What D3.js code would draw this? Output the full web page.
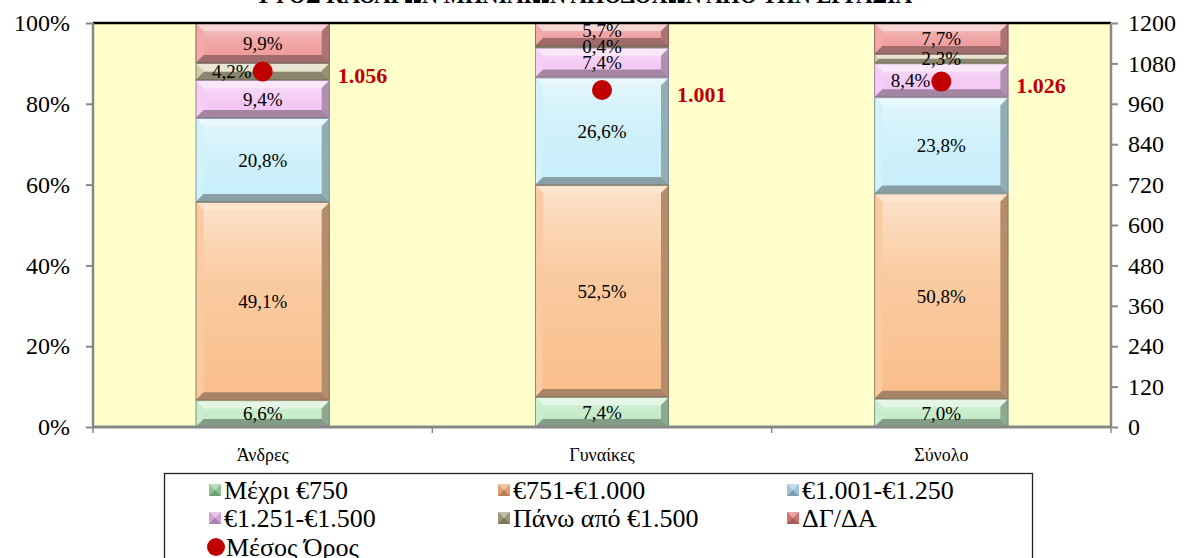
<!DOCTYPE html>
<html><head><meta charset="utf-8">
<script src="https://cdn.jsdelivr.net/npm/d3@7"></script>
<style>body{margin:0;background:#fff}svg{display:block}</style>
</head><body>
<svg id="c" width="1189" height="558"></svg>
<script>
const titleText = "ΥΨΟΣ ΚΑΘΑΡΩΝ ΜΗΝΙΑΙΩΝ ΑΠΟΔΟΧΩΝ ΑΠΟ ΤΗΝ ΕΡΓΑΣΙΑ";
const categories = ["Άνδρες", "Γυναίκες", "Σύνολο"];
const seriesNames = ["Μέχρι €750", "€751-€1.000", "€1.001-€1.250", "€1.251-€1.500", "Πάνω από €1.500", "ΔΓ/ΔΑ"];
const upTo750   = [6.6, 7.4, 7.0];
const from751   = [49.1, 52.5, 50.8];
const from1001  = [20.8, 26.6, 23.8];
const from1251  = [9.4, 7.4, 8.4];
const over1500  = [4.2, 0.4, 2.3];
const noAnswer  = [9.9, 5.7, 7.7];
const meanName = "Μέσος Όρος";
const meanValues = [1056, 1001, 1026];
const meanLabels = ["1.056", "1.001", "1.026"];
const leftTicks = [0, 20, 40, 60, 80, 100];
const rightTicks = [0, 120, 240, 360, 480, 600, 720, 840, 960, 1080, 1200];

const seriesValues = [upTo750, from751, from1001, from1251, over1500, noAnswer];
const palette = ["#BDE8C0", "#F9BE8A", "#C6EEFA", "#F3C2F3", "#C9C196", "#EE9494"];
const legendIcon = ["#8CC792", "#E0A070", "#9CC6D8", "#D0A0D8", "#9A9470", "#D07070"];
const serif = "'Liberation Serif','Times New Roman',serif";

const svg = d3.select("#c");
const defs = svg.append("defs");
const L = 93, R = 1111, T = 23, B = 427;

const x = d3.scaleBand().domain(categories).range([L, R]).paddingInner(0.605).paddingOuter(0.3025);
const yL = d3.scaleLinear().domain([0, 100]).range([B, T]);
const yR = d3.scaleLinear().domain([0, 1200]).range([B, T]);

// title (mostly cut off at the top)
svg.append("text").attr("x", 255).attr("y", 3)
  .attr("textLength", 657).attr("lengthAdjust", "spacingAndGlyphs")
  .style("font-family", serif).style("font-weight", "bold").style("font-size", "28px")
  .text(titleText);

// plot background
svg.append("rect").attr("x", L).attr("y", T).attr("width", R - L).attr("height", B - T).attr("fill", "#FFFFCC");

// gradients
palette.forEach((c, i) => {
  const g = defs.append("linearGradient").attr("id", "g" + i).attr("x1", 0).attr("y1", 0).attr("x2", 0).attr("y2", 1);
  g.append("stop").attr("offset", "0%").attr("stop-color", d3.interpolateRgb(c, "#fff")(0.55));
  g.append("stop").attr("offset", "40%").attr("stop-color", d3.interpolateRgb(c, "#fff")(0.2));
  g.append("stop").attr("offset", "100%").attr("stop-color", c);
});

function bevel(g, x0, y0, x1, y1, i, bmax) {
  const c = palette[i];
  const h = y1 - y0, b = Math.max(0, Math.min(bmax, h / 2));
  g.append("rect").attr("x", x0).attr("y", y0).attr("width", x1 - x0).attr("height", h).attr("fill", `url(#g${i})`);
  const poly = (pts, fill) => g.append("polygon").attr("points", pts.map(p => p.join(",")).join(" ")).attr("fill", fill);
  poly([[x0, y0], [x1, y0], [x1 - b, y0 + b], [x0 + b, y0 + b]], d3.interpolateRgb(c, "#fff")(0.6));
  poly([[x0, y0], [x0 + b, y0 + b], [x0 + b, y1 - b], [x0, y1]], d3.interpolateRgb(c, "#fff")(0.2));
  poly([[x1, y0], [x1, y1], [x1 - b, y1 - b], [x1 - b, y0 + b]], d3.interpolateRgb(c, "#333")(0.35));
  poly([[x0, y1], [x1, y1], [x1 - b, y1 - b], [x0 + b, y1 - b]], d3.interpolateRgb(c, "#333")(0.42));
  g.append("rect").attr("x", x0 + 0.4).attr("y", y0 + 0.4).attr("width", Math.max(0, x1 - x0 - 0.8)).attr("height", Math.max(0, h - 0.8))
    .attr("fill", "none").attr("stroke", d3.interpolateRgb(c, "#222")(0.5)).attr("stroke-width", 0.8);
}

// stacked data
const table = categories.map((cat, ci) => {
  const row = { cat };
  seriesNames.forEach((s, si) => row[s] = seriesValues[si][ci]);
  return row;
});
const stacked = d3.stack().keys(seriesNames)(table);

const barsG = svg.append("g");
stacked.forEach((layer, si) => {
  layer.forEach((d, ci) => {
    const x0 = x(d.data.cat), x1 = x0 + x.bandwidth();
    bevel(barsG, x0, yL(d[1]), x1, yL(d[0]), si, 8);
  });
});

// segment labels (bottom-up, nudged up to avoid collisions)
const lblG = svg.append("g").style("font-family", serif).style("font-size", "19px").attr("fill", "#000");
categories.forEach((cat, ci) => {
  const cx = x(cat) + x.bandwidth() / 2;
  const my = yR(meanValues[ci]);
  let prevY = Infinity;
  stacked.forEach((layer, si) => {
    const d = layer[ci];
    let cy = (yL(d[0]) + yL(d[1])) / 2;
    if (prevY - cy < 16) cy = prevY - 16;
    prevY = cy;
    const t = lblG.append("text").attr("y", cy).attr("dy", "0.35em")
      .text(d3.format(".1f")(seriesValues[si][ci]).replace(".", ",") + "%");
    if (Math.abs(cy - my) < 12) t.attr("x", cx - 11).attr("text-anchor", "end");
    else t.attr("x", cx).attr("text-anchor", "middle");
  });
});

// axes lines
svg.append("line").attr("x1", L).attr("x2", R).attr("y1", T).attr("y2", T).attr("stroke", "#000").attr("stroke-width", 2.5);
svg.append("line").attr("x1", L).attr("x2", L).attr("y1", T).attr("y2", B + 1).attr("stroke", "#888").attr("stroke-width", 2.5);
svg.append("line").attr("x1", R).attr("x2", R).attr("y1", T).attr("y2", B + 1).attr("stroke", "#888").attr("stroke-width", 2.5);
svg.append("line").attr("x1", L).attr("x2", R).attr("y1", B).attr("y2", B).attr("stroke", "#888").attr("stroke-width", 3);

const leftAxis = svg.append("g").attr("transform", `translate(${L},0)`)
  .call(d3.axisLeft(yL).tickValues(leftTicks).tickFormat(d => d + "%").tickSize(7).tickPadding(16));
const rightAxis = svg.append("g").attr("transform", `translate(${R},0)`)
  .call(d3.axisRight(yR).tickValues(rightTicks).tickFormat(d3.format("d")).tickSize(7).tickPadding(10));
[leftAxis, rightAxis].forEach(a => {
  a.select(".domain").remove();
  a.selectAll(".tick line").attr("stroke", "#888").attr("stroke-width", 2);
  a.selectAll(".tick text").style("font-family", serif).style("font-size", "24px").attr("fill", "#000");
});

// category axis
const catTicks = d3.range(categories.length + 1).map(i => L + i * x.step());
svg.append("g").selectAll("line").data(catTicks).join("line")
  .attr("x1", d => d).attr("x2", d => d).attr("y1", B).attr("y2", B + 6).attr("stroke", "#888").attr("stroke-width", 1.5);
svg.append("g").selectAll("text").data(categories).join("text")
  .attr("x", d => x(d) + x.bandwidth() / 2).attr("y", 461).attr("text-anchor", "middle")
  .style("font-family", serif).style("font-size", "18px").text(d => d);

// mean dots and labels
const meanG = svg.append("g");
categories.forEach((cat, ci) => {
  const cx = x(cat) + x.bandwidth() / 2, cy = yR(meanValues[ci]);
  meanG.append("circle").attr("cx", cx).attr("cy", cy).attr("r", 10).attr("fill", "#C00000");
  meanG.append("text").attr("x", cx + 75).attr("y", cy + 4).attr("dy", "0.35em")
    .style("font-family", serif).style("font-weight", "bold").style("font-size", "22px")
    .attr("fill", "#C00000").text(meanLabels[ci]);
});

// legend
const lg = svg.append("g");
lg.append("rect").attr("x", 164.5).attr("y", 473.5).attr("width", 868).attr("height", 110)
  .attr("fill", "#fff").attr("stroke", "#222").attr("stroke-width", 1.3);
const colX = [209, 498, 787], rowY = [490, 518, 547];
seriesNames.forEach((s, i) => {
  const cx = colX[i % 3], cy = rowY[Math.floor(i / 3)];
  const ig = lg.append("g");
  const c = legendIcon[i];
  ig.append("rect").attr("x", cx).attr("y", cy - 6).attr("width", 12).attr("height", 12).attr("fill", c);
  ig.append("polygon").attr("points", `${cx},${cy-6} ${cx+12},${cy-6} ${cx+6},${cy}`).attr("fill", d3.interpolateRgb(c, "#fff")(0.4));
  ig.append("polygon").attr("points", `${cx},${cy+6} ${cx+12},${cy+6} ${cx+6},${cy}`).attr("fill", d3.interpolateRgb(c, "#000")(0.2));
  lg.append("text").attr("x", cx + 15).attr("y", cy).attr("dy", "0.35em")
    .style("font-family", serif).style("font-size", "26px").text(s);
});
lg.append("circle").attr("cx", colX[0] + 7).attr("cy", rowY[2]).attr("r", 9).attr("fill", "#C00000");
lg.append("text").attr("x", colX[0] + 17).attr("y", rowY[2]).attr("dy", "0.35em")
  .style("font-family", serif).style("font-size", "26px").text(meanName);
</script>
</body></html>
